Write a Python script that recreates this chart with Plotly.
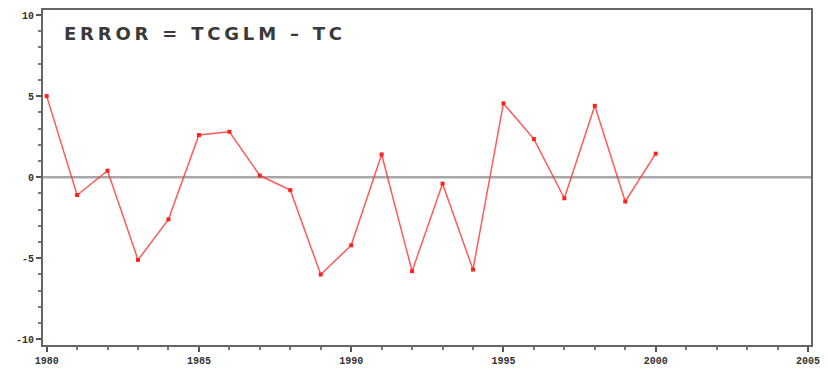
import plotly.graph_objects as go

years = list(range(1980, 2001))
errors = [5.0, -1.1, 0.4, -5.1, -2.6, 2.6, 2.8, 0.1, -0.8, -6.0, -4.2,
          1.4, -5.8, -0.4, -5.7, 4.55, 2.35, -1.3, 4.4, -1.5, 1.45]
x_ticks = [1980, 1985, 1990, 1995, 2000, 2005]
y_ticks = [-10, -5, 0, 5, 10]
title_text = "ERROR = TCGLM \u2013 TC"

fig = go.Figure()
fig.add_trace(go.Scatter(
    x=years, y=errors, mode="lines+markers",
    line=dict(color="rgba(255,50,50,0.8)", width=1.5),
    marker=dict(symbol="square", size=4, color="#ff2020"),
    showlegend=False, cliponaxis=False,
))
fig.add_hline(y=0, line=dict(color="#a8a8a8", width=2.5), layer="below")

fig.add_annotation(
    text='<span style="letter-spacing:3.8px">' + title_text + "</span>",
    xref="paper", yref="paper", x=0.025, y=0.93,
    xanchor="left", yanchor="middle", showarrow=False,
    font=dict(family="DejaVu Sans", size=18, color="#3a3a3a", weight="bold"),
)

axis_common = dict(
    showline=True, linecolor="#666", linewidth=2, mirror=True,
    showgrid=False, zeroline=False, ticks="outside", ticklen=5,
    tickwidth=1.5, tickcolor="#555",
    tickfont=dict(family="Liberation Mono, DejaVu Sans Mono", size=10,
                  color="#333", weight="bold"),
)
fig.update_xaxes(range=[1979.88, 2005.1], tickvals=x_ticks,
                 ticktext=[str(v) for v in x_ticks],
                 minor=dict(dtick=1, ticks="outside", ticklen=3,
                            tickcolor="#777", tick0=1980),
                 **axis_common)
fig.update_yaxes(range=[-10.35, 10.31], tickvals=y_ticks,
                 ticktext=[str(v) for v in y_ticks],
                 minor=dict(dtick=1, ticks="outside", ticklen=3,
                            tickcolor="#777", tick0=0),
                 **axis_common)
fig.update_layout(
    width=828, height=378, margin=dict(l=43, r=8, t=9, b=33),
    paper_bgcolor="white", plot_bgcolor="white",
)
fig.write_html("out.html")
